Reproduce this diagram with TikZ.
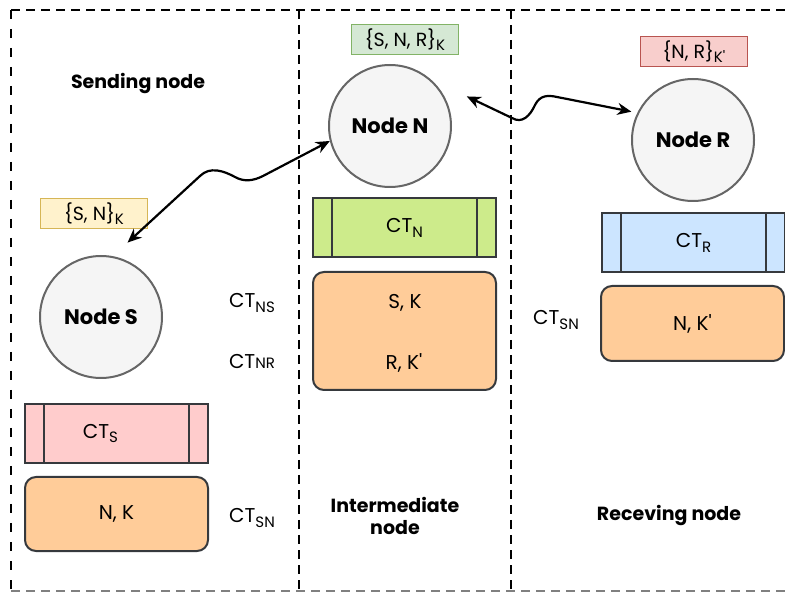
\documentclass[tikz,border=0pt]{standalone}
\usepackage{fontspec}
\setmainfont{Poppins}
\usetikzlibrary{arrows.meta}

\definecolor{nodefill}{HTML}{F5F5F5}
\definecolor{nodeedge}{HTML}{666666}
\definecolor{boxedge}{HTML}{36393D}
\definecolor{tagGreen}{HTML}{D5E8D4}
\definecolor{tagGreenEdge}{HTML}{82B366}
\definecolor{tagRed}{HTML}{F8CECC}
\definecolor{tagRedEdge}{HTML}{B85450}
\definecolor{tagYellow}{HTML}{FFF2CC}
\definecolor{tagYellowEdge}{HTML}{D6B656}
\definecolor{ctGreen}{HTML}{CDEB8B}
\definecolor{ctBlue}{HTML}{CCE5FF}
\definecolor{ctPink}{HTML}{FFCCCC}
\definecolor{keyOrange}{HTML}{FFCC99}

\newcommand{\pr}{\textquotesingle}
% subscript a little larger than \textsubscript
\newcommand{\lowsub}[1]{\raisebox{-0.22em}{\fontsize{15}{17}\selectfont #1}}

\begin{document}
\begin{tikzpicture}[x=1pt, y=-1pt, line width=2pt,
    peer/.style={circle, draw=nodeedge, fill=nodefill, minimum size=122pt,
      inner sep=0pt, font=\fontsize{21}{24}\selectfont\bfseries},
    keytag/.style={draw, line width=1pt, minimum width=107pt, minimum height=30pt,
      inner sep=0pt, font=\fontsize{19}{22}\selectfont},
    ctbox/.style={draw=boxedge, minimum width=183pt, minimum height=59pt,
      inner sep=0pt, font=\fontsize{20}{23}\selectfont,
      path picture={
        \draw[boxedge, line width=2pt]
          ([xshift=19pt]path picture bounding box.north west) -- ([xshift=19pt]path picture bounding box.south west)
          ([xshift=-19pt]path picture bounding box.north east) -- ([xshift=-19pt]path picture bounding box.south east);}},
    keybox/.style={draw=boxedge, fill=keyOrange, rounded corners=11pt,
      minimum width=183pt, inner sep=0pt},
    lbl/.style={font=\fontsize{20}{23}\selectfont},
    title/.style={font=\fontsize{19}{22}\selectfont\bfseries, align=center},
    frame/.style={line width=2.4pt, dash pattern=on 9pt off 6pt},
    link/.style={{Stealth[length=14pt,width=12pt]}-{Stealth[length=14pt,width=12pt]},
      line width=2.2pt, black}]

    \useasboundingbox (0,0) rectangle (785,593);

    % Columns
    \draw[line width=1.1pt, dash pattern=on 9pt off 10pt] (11,10) -- (11,591);
    \draw[line width=1.1pt, gray, dash pattern=on 9pt off 6pt] (11,591) -- (785,591);
    \draw[frame] (11,10) -- (785,10);
    \draw[frame] (299,10) -- (299,593);
    \draw[frame] (511,10) -- (511,593);

    \node[title] (sendTitle) at (138,84) {Sending node};
    \node[title] (midTitle) at (395,516) {Intermediate\\node};
    \node[title] (recvTitle) at (669,516) {Receving node};

    % The nodes
    \node[peer] (S) at (101,317) {Node S};
    \node[peer] (N) at (390,126) {Node N};
    \node[peer] (R) at (693,140) {Node R};

    % Shared keys
    \node[keytag, fill=tagYellow, draw=tagYellowEdge] (tagS) at (94,214) {\{S, N\}\lowsub{K}};
    \node[keytag, fill=tagGreen, draw=tagGreenEdge] (tagN) at (405,40) {\{S, N, R\}\lowsub{K}};
    \node[keytag, fill=tagRed, draw=tagRedEdge] (tagR) at (694,52) {\{N, R\}\lowsub{K\pr}};

    % Ciphertexts
    \node[ctbox, fill=ctPink] (ctS) at (116.5,433.5) {\hspace*{-32pt}CT\lowsub{S}};
    \node[ctbox, fill=ctGreen] (ctN) at (404.5,228) {CT\lowsub{N}};
    \node[ctbox, fill=ctBlue] (ctR) at (693.5,243) {CT\lowsub{R}};

    % Key stores
    \node[keybox, minimum height=74pt, lbl] (keyS) at (116.5,514) {N, K};
    \node[keybox, minimum height=118pt] (keyN) at (404.5,331) {};
    \node[lbl] (keyNS) at (405,303) {S, K};
    \node[lbl] (keyNR) at (404,363) {R, K\pr};
    \node[keybox, minimum height=75pt, lbl] (keyR) at (692.5,323.5) {N, K\pr};

    \node[lbl] (ctSN) at (252,518) {CT\lowsub{SN}};
    \node[lbl] (ctNS) at (252,303) {CT\lowsub{NS}};
    \node[lbl] (ctNR) at (252,362) {CT{\fontsize{15}{17}\selectfont NR}};
    \node[lbl] (ctRN) at (556,320) {CT\lowsub{SN}};

    % Links
    \draw[link, shorten <=20pt] (S.79) -- (200,176)
      .. controls (210,166) and (224,171) .. (235,177)
      .. controls (244,182) and (253,181) .. (263,176) -- (N.194);
    \draw[link, shorten <=40pt, shorten >=6pt] (N.49) -- (512,118)
      .. controls (522,124) and (530,116) .. (535,105)
      .. controls (540,95) and (548,95) .. (557,97) -- (R.154);
\end{tikzpicture}
\end{document}
